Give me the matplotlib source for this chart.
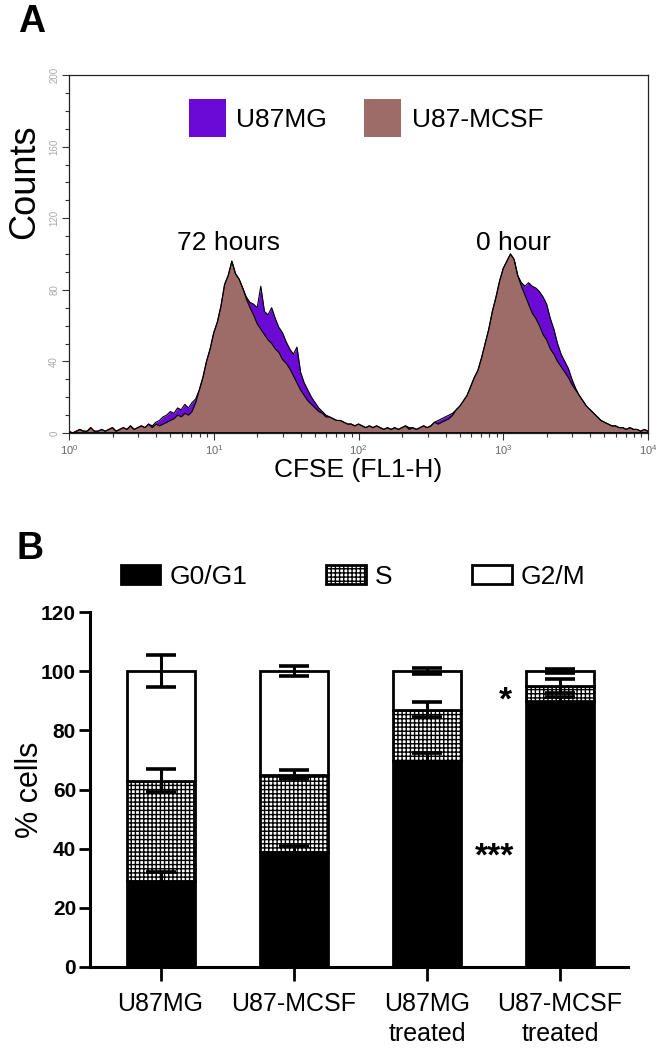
import numpy as np
import matplotlib
matplotlib.use('Agg')
import matplotlib.pyplot as plt
from matplotlib.patches import Patch
from matplotlib.ticker import MultipleLocator, LogLocator, LogFormatterMathtext, NullFormatter

plt.rcParams['font.family'] = ['Liberation Sans', 'DejaVu Sans']
plt.rcParams['hatch.linewidth'] = 1.0

# ---------------- Panel A data (flow histogram, channels 10^0 .. 10^4) ----------------
u87mcsf_counts = [1, 0, 1, 2, 1, 1, 3, 1, 1, 2, 1, 2, 3, 1, 2, 3, 2, 4, 2, 3,
                  4, 3, 5, 3, 5, 4, 5, 6, 7, 8, 10, 9, 11, 10, 12, 17, 24, 31, 40, 47,
                  56, 62, 71, 83, 88, 96, 89, 86, 81, 75, 70, 66, 61, 58, 55, 52, 50, 47, 45, 41,
                  39, 36, 32, 28, 24, 21, 18, 16, 14, 12, 11, 9, 9, 8, 7, 7, 6, 5, 5, 4,
                  5, 4, 3, 4, 3, 4, 3, 2, 3, 2, 3, 2, 3, 4, 2, 3, 2, 3, 4, 3,
                  4, 6, 5, 6, 7, 8, 10, 13, 15, 18, 21, 26, 31, 35, 42, 50, 58, 68, 76, 85,
                  92, 96, 100, 97, 88, 82, 77, 72, 67, 64, 60, 55, 52, 47, 44, 40, 37, 34, 31, 27,
                  24, 21, 18, 15, 13, 11, 9, 7, 6, 5, 4, 4, 3, 3, 2, 3, 2, 2, 1, 2,
                  1]
u87mg_counts = [1, 0, 1, 2, 1, 1, 3, 1, 1, 2, 1, 2, 3, 1, 2, 3, 2, 4, 2, 3,
                4, 3, 5, 4, 6, 7, 9, 10, 12, 11, 14, 13, 16, 14, 17, 19, 24, 31, 40, 47,
                56, 62, 71, 83, 88, 96, 89, 86, 81, 76, 73, 72, 70, 82, 68, 66, 70, 64, 59, 56,
                51, 47, 44, 48, 34, 28, 24, 20, 17, 14, 12, 10, 9, 8, 7, 7, 6, 5, 5, 4,
                5, 4, 3, 4, 3, 4, 3, 2, 3, 2, 3, 2, 3, 4, 3, 3, 2, 3, 4, 3,
                4, 6, 7, 8, 9, 10, 11, 13, 15, 18, 21, 26, 31, 35, 42, 50, 58, 68, 76, 85,
                92, 96, 100, 97, 88, 84, 82, 84, 82, 81, 79, 76, 72, 64, 58, 50, 44, 40, 36, 30,
                25, 21, 18, 15, 13, 11, 9, 7, 6, 5, 4, 4, 3, 3, 2, 3, 2, 2, 1, 2,
                1]
hist_labels = ['U87MG', 'U87-MCSF']
hist_colors = ['#6a0ad4', '#9e6c68']
peak_labels = ['72 hours', '0 hour']
peak_label_x = [10 ** 1.10, 10 ** 3.07]
peak_label_y = [106, 106]

# ---------------- Panel B data (cell cycle) ----------------
categories = ['U87MG', 'U87-MCSF', 'U87MG\ntreated', 'U87-MCSF\ntreated']
phases = ['G0/G1', 'S', 'G2/M']
g0g1 = [29, 39, 69.5, 90]
s_phase = [34, 26, 17.5, 5]
g2m = [37, 35, 13, 5]
g0g1_err = [3.0, 2.0, 3.0, 1.2]
s_err = [3.8, 1.6, 2.5, 2.3]
g2m_err = [5.5, 1.8, 1.0, 0.6]
sig_marks = ['*', '***']
sig_x = [2.59, 2.51]
sig_y = [90, 37]

W, H = 662, 1054
fig = plt.figure(figsize=(W / 100, H / 100), dpi=100)

def fx(px):
    return px / W

def fy(py):
    return 1 - py / H

# ================= Panel A =================
axA = fig.add_axes([fx(69), fy(433), fx(648) - fx(69), fy(75) - fy(433)])
n = len(u87mcsf_counts)
chan = 10 ** np.linspace(0, 4, n)
for counts, col in zip([u87mg_counts, u87mcsf_counts], hist_colors):
    axA.fill_between(chan, 0, counts, color=col, lw=0)
    axA.plot(chan, counts, color='black', lw=0.8)
axA.set_xscale('log')
axA.set_xlim(1, 1e4)
axA.set_ylim(0, 200)
axA.yaxis.set_major_locator(MultipleLocator(40))
axA.yaxis.set_minor_locator(MultipleLocator(10))
axA.xaxis.set_major_locator(LogLocator(base=10, numticks=10))
axA.xaxis.set_major_formatter(LogFormatterMathtext())
axA.xaxis.set_minor_locator(LogLocator(base=10, subs=np.arange(2, 10), numticks=20))
axA.xaxis.set_minor_formatter(NullFormatter())
axA.tick_params(axis='both', which='major', direction='out', length=5, width=0.8, color='#333')
axA.tick_params(axis='both', which='minor', direction='out', length=3, width=0.8, color='#333')
axA.tick_params(axis='y', labelsize=7, labelcolor='#aaaaaa', labelrotation=90, pad=2)
axA.tick_params(axis='x', labelsize=8, labelcolor='#666666', pad=2)
for lab in axA.get_yticklabels():
    lab.set_va('center')
for sp in axA.spines.values():
    sp.set_linewidth(0.9)
    sp.set_color('#222')
axA.axhline(0, color='black', lw=2, zorder=3)
for txt, x, y in zip(peak_labels, peak_label_x, peak_label_y):
    axA.text(x, y, txt, ha='center', va='center', fontsize=19)

handlesA = [Patch(facecolor=c, edgecolor='none', label=l) for c, l in zip(hist_colors, hist_labels)]
fig.legend(handles=handlesA, loc='center', bbox_to_anchor=(fx(366), fy(118)),
           ncol=2, frameon=False, fontsize=19, handlelength=1.4, handleheight=1.8,
           handletextpad=0.4, columnspacing=1.4, borderpad=0)

fig.text(fx(25), fy(182), 'Counts', rotation=90, ha='center', va='center', fontsize=26)
fig.text(fx(358), fy(470), 'CFSE (FL1-H)', ha='center', va='center', fontsize=19)
fig.text(fx(32), fy(22), 'A', ha='center', va='center', fontsize=27, fontweight='bold')

# ================= Panel B =================
axB = fig.add_axes([fx(90), fy(967), fx(628) - fx(90), fy(612) - fy(967)])
x = np.arange(len(categories))
bw = 0.51
lw = 2.0
axB.bar(x, g0g1, bw, color='black', edgecolor='black', lw=lw, zorder=2)
axB.bar(x, s_phase, bw, bottom=g0g1, color='white', edgecolor='black', hatch='++++', lw=lw, zorder=2)
bottom2 = np.array(g0g1) + np.array(s_phase)
axB.bar(x, g2m, bw, bottom=bottom2, color='white', edgecolor='black', lw=lw, zorder=2)
tops = [np.array(g0g1), bottom2, bottom2 + np.array(g2m)]
for t, e in zip(tops, [g0g1_err, s_err, g2m_err]):
    axB.errorbar(x, t, yerr=e, fmt='none', ecolor='black', elinewidth=2.2,
                 capsize=11, capthick=2.6, zorder=3)
for m, sx, sy in zip(sig_marks, sig_x, sig_y):
    axB.text(sx, sy, m, ha='center', va='center', fontsize=24, fontweight='bold')

axB.set_xlim(-0.53, 3.51)
axB.set_ylim(0, 120)
axB.set_yticks(np.arange(0, 121, 20))
axB.set_xticks(x)
axB.set_xticklabels(categories, fontsize=18, linespacing=1.3)
for lab in axB.get_yticklabels():
    lab.set_fontweight('bold')
axB.tick_params(axis='y', labelsize=15, length=8, width=2, pad=2)
axB.tick_params(axis='x', length=10, width=2, pad=8)
for s in ['top', 'right']:
    axB.spines[s].set_visible(False)
for s in ['left', 'bottom']:
    axB.spines[s].set_linewidth(2.2)

handlesB = [Patch(facecolor='black', edgecolor='black', lw=2, label=phases[0]),
            Patch(facecolor='white', edgecolor='black', hatch='++++', lw=2, label=phases[1]),
            Patch(facecolor='white', edgecolor='black', lw=2, label=phases[2])]
fig.legend(handles=handlesB, loc='center', bbox_to_anchor=(fx(353), fy(577)),
           ncol=3, frameon=False, fontsize=19, handlelength=1.5, handleheight=0.75,
           handletextpad=0.35, columnspacing=3.0, borderpad=0)

fig.text(fx(30), fy(790), '% cells', rotation=90, ha='center', va='center', fontsize=22)
fig.text(fx(30), fy(549), 'B', ha='center', va='center', fontsize=27, fontweight='bold')

fig.savefig('out.png', dpi=100)
